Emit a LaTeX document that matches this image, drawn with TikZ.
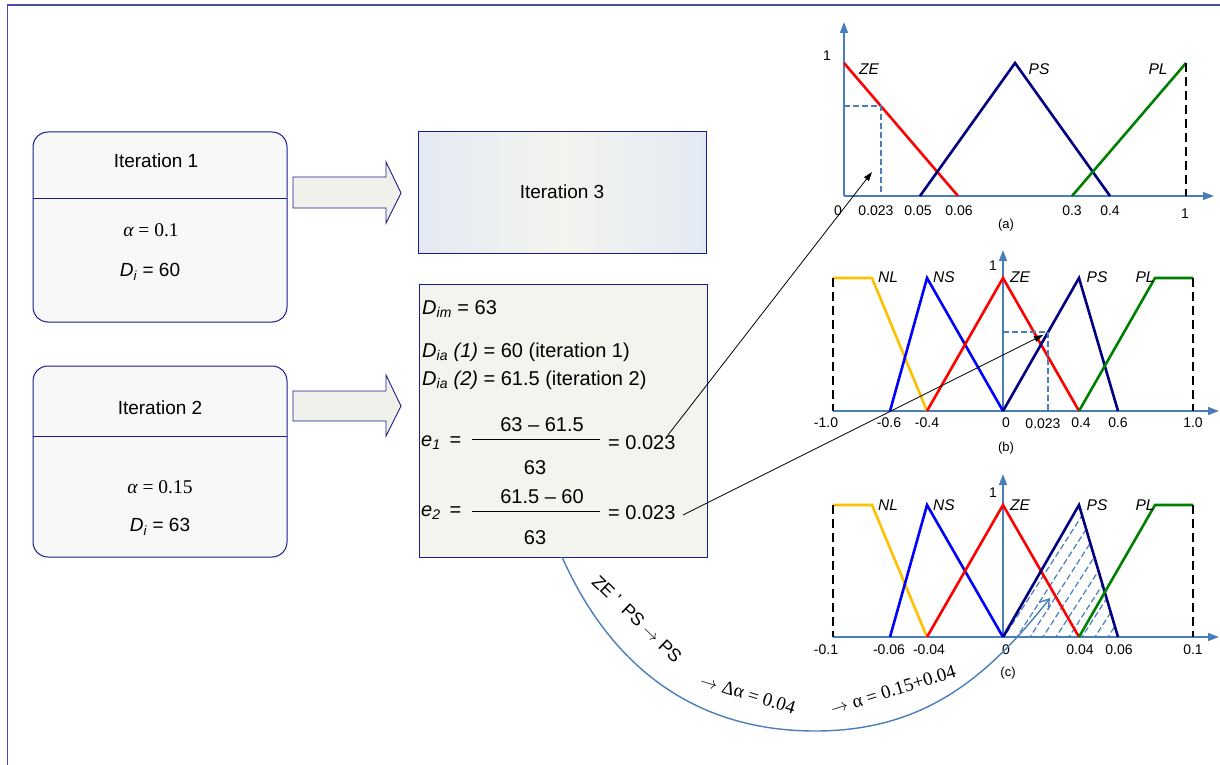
\documentclass[tikz,border=0pt]{standalone}
\usepackage{fontspec}
\setmainfont{Liberation Sans}
\newfontfamily\tnr{Liberation Serif}
\usetikzlibrary{arrows.meta}
\definecolor{navy}{HTML}{1C1C8A}
\definecolor{framec}{HTML}{4A4AA8}
\definecolor{boxgray}{HTML}{F8F8F8}
\definecolor{boxgreen}{HTML}{F2F4EE}
\definecolor{arrowfill}{HTML}{EEF2EA}
\definecolor{shadeblue}{HTML}{E4EAF4}
\definecolor{axisblue}{HTML}{4A7EBB}
\definecolor{mfred}{HTML}{FF0000}
\definecolor{mfnavy}{HTML}{000080}
\definecolor{mfgreen}{HTML}{008000}
\definecolor{mfyellow}{HTML}{FFC000}
\definecolor{mfblue}{HTML}{0000FF}
\tikzset{
  ibox/.style={draw=navy, line width=1pt, fill=boxgray, rounded corners=15pt, inner sep=0pt},
  sqbox/.style={draw=navy, line width=1pt, inner sep=0pt},
  blockarrow/.style={draw=navy, line width=0.9pt, fill=arrowfill},
  itxt/.style={inner sep=0pt, font=\fontsize{19}{21}\selectfont},
  txt/.style={inner sep=0pt, font=\fontsize{20}{22}\selectfont},
  stxt/.style={inner sep=0pt, font=\fontsize{19.5}{21}\selectfont\tnr},
  axisline/.style={draw=axisblue, line width=1.4pt, -{Triangle[length=11pt,width=8pt]}},
  mf/.style={line width=2.6pt, line join=miter},
  blackdash/.style={line width=2.4pt, dash pattern=on 9pt off 5pt},
  bluedash/.style={draw=axisblue, line width=1.4pt, dash pattern=on 6pt off 3pt},
  setlbl/.style={inner sep=0pt, font=\fontsize{15.5}{17}\selectfont\itshape},
  ticklbl/.style={inner sep=0pt, font=\fontsize{14}{16}\selectfont},
  caplbl/.style={inner sep=0pt, font=\fontsize{13}{15}\selectfont},
  pointer/.style={line width=0.8pt, -{Triangle[length=9pt,width=6pt]}},
  fracbar/.style={line width=0.9pt}
}
\begin{document}
\begin{tikzpicture}[x=1pt,y=-1pt]
\useasboundingbox (0,0) rectangle (1220,765);
% frame
\draw[draw=framec, line width=1.6pt] (7.5,765) -- (7.5,5) -- (1220,5);

% Iteration 1
\node[ibox, minimum width=254pt, minimum height=190pt] (it1) at (160,227) {};
\draw[navy, line width=1pt] (33,198) -- (287,198);
\node[itxt] (it1t) at (156,161) {Iteration 1};
\node[stxt] (it1a) at (151,230) {\itshape α\upshape\ = 0.1};
\node[itxt] (it1d) at (150,272) {\textit{D}\textsubscript{\textit{i}} = 60};

% Iteration 2
\node[ibox, minimum width=254pt, minimum height=191pt] (it2) at (160,461.5) {};
\draw[navy, line width=1pt] (33,436) -- (287,436);
\node[itxt] (it2t) at (160,408) {Iteration 2};
\node[stxt] (it2a) at (160,487) {\itshape α\upshape\ = 0.15};
\node[itxt] (it2d) at (160,527) {\textit{D}\textsubscript{\textit{i}} = 63};

% block arrows
\draw[blockarrow] (293,177) -- (386,177) -- (386,162) -- (401,193) -- (386,223) -- (386,208) -- (293,208) -- cycle;
\draw[blockarrow] (293,391) -- (386,391) -- (386,375) -- (401,406) -- (386,436) -- (386,421) -- (293,421) -- cycle;

% Iteration 3
\node[sqbox, minimum width=288pt, minimum height=121pt, left color=shadeblue, right color=shadeblue, middle color=boxgreen] (it3) at (562,192.5) {};
\node[itxt] (it3t) at (562,192) {Iteration 3};

% computation box
\node[sqbox, fill=boxgreen, minimum width=288pt, minimum height=273pt] (calc) at (563,420.5) {};
\node[txt, anchor=west] (dim) at (422,309) {\textit{D}\textsubscript{\textit{im}} = 63};
\node[txt, anchor=west] (dia1) at (422,352) {\textit{D}\textsubscript{\textit{ia}} \textit{(1)} = 60 (iteration 1)};
\node[txt, anchor=west] (dia2) at (422,380) {\textit{D}\textsubscript{\textit{ia}} \textit{(2)} = 61.5 (iteration 2)};
\node[txt, anchor=west] (e1l) at (421,443) {\textit{e}\textsubscript{\textit{1}} \,=};
\node[txt] (e1n) at (542,425) {63 – 61.5};
\draw[fracbar] (472,439) -- (600,439);
\node[txt] (e1d) at (535,468) {63};
\node[txt, anchor=west] (e1r) at (608,443) {= 0.023};
\node[txt, anchor=west] (e2l) at (421,513) {\textit{e}\textsubscript{\textit{2}} \,=};
\node[txt] (e2n) at (542,497) {61.5 – 60};
\draw[fracbar] (472,511) -- (600,511);
\node[txt] (e2d) at (535,538) {63};
\node[txt, anchor=west] (e2r) at (608,513) {= 0.023};

% ---------- chart (a)
\draw[axisline] (844,196) -- (844,22);
\draw[axisline] (844,196) -- (1214,196);
\draw[mf, mfred] (844,63) -- (958,196);
\draw[mf, mfnavy] (920,196) -- (1015,63) -- (1110,196);
\draw[mf, mfgreen] (1072,196) -- (1186,63);
\draw[blackdash] (1186,63) -- (1186,196);
\draw[bluedash] (844,106) -- (881,106) -- (881,196);
\node[ticklbl] (a1) at (827,56) {1};
\node[setlbl] (aZE) at (869,69) {ZE};
\node[setlbl] (aPS) at (1039,69) {PS};
\node[setlbl] (aPL) at (1158,69) {PL};
\node[ticklbl] (a0) at (838,211) {0};
\node[ticklbl] (a023) at (876,211) {0.023};
\node[ticklbl] (a05) at (918,211) {0.05};
\node[ticklbl] (a06) at (959,211) {0.06};
\node[ticklbl] (a3) at (1072,211) {0.3};
\node[ticklbl] (a4) at (1110,211) {0.4};
\node[ticklbl] (a10) at (1185,214) {1};
\node[caplbl] (acap) at (1006,225) {(a)};

% ---------- chart (b)
\draw[axisline] (1003,411) -- (1003,250);
\draw[axisline] (833,411) -- (1219,411);
\draw[mf, mfyellow] (833,278) -- (872,278) -- (927,411);
\draw[mf, mfblue] (890,411) -- (927,278) -- (1003,411);
\draw[mf, mfred] (927,411) -- (1003,278) -- (1079,411);
\draw[mf, mfnavy] (1003,411) -- (1079,278) -- (1118,411);
\draw[mf, mfgreen] (1079,411) -- (1155,278) -- (1193,278);
\draw[blackdash] (833,278) -- (833,411);
\draw[blackdash] (1193,278) -- (1193,411);
\draw[bluedash] (1003,332) -- (1048,332) -- (1048,411);
\node[ticklbl] (b1) at (993,266) {1};
\node[setlbl] (bNL) at (888,277) {NL};
\node[setlbl] (bNS) at (944,277) {NS};
\node[setlbl] (bZE) at (1020,277) {ZE};
\node[setlbl] (bPS) at (1097,277) {PS};
\node[setlbl] (bPL) at (1145,277) {PL};
\node[ticklbl] (bm10) at (826,423) {-1.0};
\node[ticklbl] (bm6) at (889,423) {-0.6};
\node[ticklbl] (bm4) at (927,423) {-0.4};
\node[ticklbl] (b0) at (1006,423) {0};
\node[ticklbl] (b023) at (1043,424) {0.023};
\node[ticklbl] (b4) at (1081,423) {0.4};
\node[ticklbl] (b6) at (1118,423) {0.6};
\node[ticklbl] (b10) at (1193,423) {1.0};
\node[caplbl] (bcap) at (1006,448) {(b)};

% ---------- chart (c)
\begin{scope}
\clip (1003,637) -- (1079,505) -- (1118,637) -- cycle;
\foreach \s in {950,963,...,1140}
  \draw[bluedash, line width=1.2pt] (\s,640) -- ++(90,-140);
\end{scope}
\draw[axisline] (1003,637) -- (1003,474);
\draw[axisline] (833,637) -- (1219,637);
\draw[mf, mfyellow] (833,505) -- (872,505) -- (927,637);
\draw[mf, mfblue] (890,637) -- (927,505) -- (1003,637);
\draw[mf, mfred] (927,637) -- (1003,505) -- (1079,637);
\draw[mf, mfnavy] (1003,637) -- (1079,505) -- (1118,637);
\draw[mf, mfgreen] (1079,637) -- (1155,505) -- (1193,505);
\draw[blackdash] (833,505) -- (833,637);
\draw[blackdash] (1193,505) -- (1193,637);
\node[ticklbl] (c1) at (993,493) {1};
\node[setlbl] (cNL) at (888,505) {NL};
\node[setlbl] (cNS) at (944,505) {NS};
\node[setlbl] (cZE) at (1020,505) {ZE};
\node[setlbl] (cPS) at (1097,505) {PS};
\node[setlbl] (cPL) at (1145,505) {PL};
\node[ticklbl] (cm10) at (826,650) {-0.1};
\node[ticklbl] (cm6) at (889,650) {-0.06};
\node[ticklbl] (cm4) at (929,650) {-0.04};
\node[ticklbl] (c0) at (1006,650) {0};
\node[ticklbl] (c4) at (1080,650) {0.04};
\node[ticklbl] (c6) at (1119,650) {0.06};
\node[ticklbl] (c10) at (1193,650) {0.1};
\node[caplbl] (ccap) at (1008,673) {(c)};

% ---------- pointers
\coordinate (e1end) at (668,435);
\coordinate (aPt) at (872,172);
\coordinate (e2end) at (683,515);
\coordinate (bPt) at (1043,335);
\draw[pointer] (e1end) -- (aPt);
\draw[pointer] (e2end) -- (bPt);

% ---------- curved arrow
\coordinate (cstart) at (562,557);
\coordinate (cbot) at (815,731);
\coordinate (cend) at (1050,598);
\draw[axisblue, line width=1.4pt, -{Straight Barb[length=9pt,width=12pt]}]
  (cstart) to[out=-66,in=180] (cbot) to[out=0,in=-128] (cend);
\node[inner sep=0pt, rotate=-44, font=\fontsize{18}{20}\selectfont] (rule) at (637,619) {ZE\hspace{5pt}'\hspace{9pt}PS $\rightarrow$ PS};
\node[inner sep=0pt, rotate=-17, font=\fontsize{19}{21}\selectfont\tnr] (dal) at (748,694) {$\rightarrow$\;Δα = 0.04};
\node[inner sep=0pt, rotate=17, font=\fontsize{19}{21}\selectfont\tnr] (nal) at (893,690) {$\rightarrow$\;α = 0.15+0.04};
\end{tikzpicture}
\end{document}
